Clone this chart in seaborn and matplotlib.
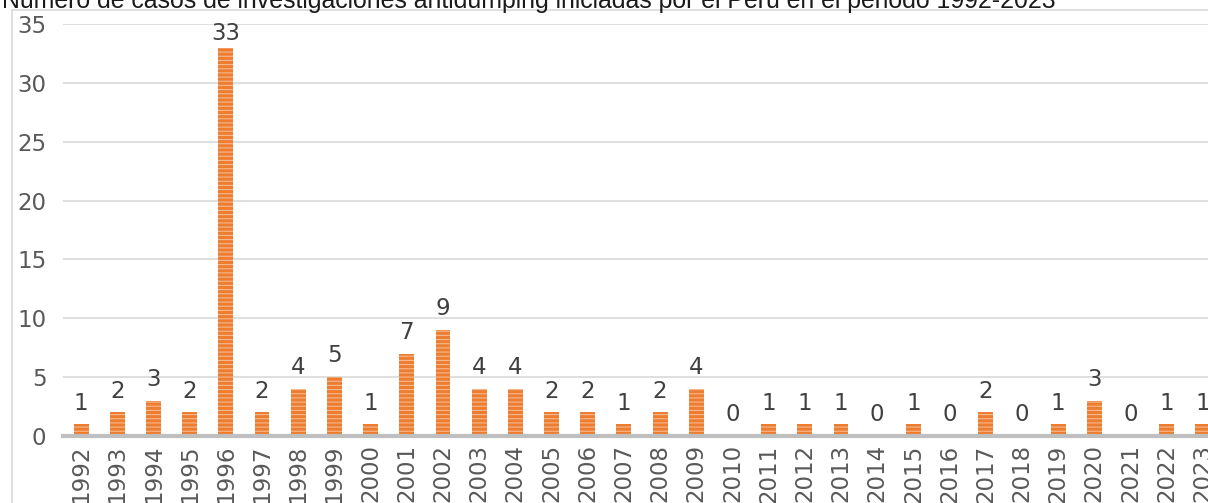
import matplotlib
matplotlib.use("Agg")
import matplotlib.pyplot as plt
import seaborn as sns
import pandas as pd
from matplotlib.patches import Rectangle

years = [str(y) for y in range(1992, 2024)]
cases = [1, 2, 3, 2, 33, 2, 4, 5, 1, 7, 9, 4, 4, 2, 2, 1, 2, 4, 0, 1, 1, 1,
         0, 1, 0, 2, 0, 1, 3, 0, 1, 1]
title = "Número de casos de investigaciones antidumping iniciadas por el Perú en el periodo 1992-2023"

df = pd.DataFrame({"year": years, "cases": cases})

sns.set_style("white")
plt.rcParams['font.family'] = ['DejaVu Sans']
plt.rcParams['hatch.linewidth'] = 0.8
plt.rcParams['hatch.color'] = '#f6b98e'

fig = plt.figure(figsize=(12.08, 5.03), dpi=100)
W, H = 1208, 503
ax = fig.add_axes([63 / W, 67 / H, 1158 / W, 412 / H])

sns.barplot(data=df, x="year", y="cases", order=years, color="#ed7d31",
            width=0.41, saturation=1, ax=ax)
for p in ax.patches:
    p.set_hatch("----")
    p.set_edgecolor("#f6b98e")
    p.set_linewidth(0)

ax.set_xlim(-0.5, len(years) - 0.5)
ax.set_ylim(0, 35)
ax.set_yticks(range(0, 36, 5))
ax.yaxis.grid(True, color="#d9d9d9", linewidth=1.2)
ax.set_axisbelow(True)
for s in ["top", "right", "left"]:
    ax.spines[s].set_visible(False)
ax.spines["bottom"].set_color("#bfbfbf")
ax.spines["bottom"].set_linewidth(3)
ax.tick_params(axis="y", length=0, pad=12, labelsize=16.5, labelcolor="#595959")
ax.tick_params(axis="x", length=0, pad=6, labelsize=16.5, labelcolor="#595959",
               rotation=90)
ax.set_xlabel("")
ax.set_ylabel("")

labels = ax.bar_label(ax.containers[0], labels=[str(v) for v in cases],
                      padding=7, fontsize=16.5, color="#404040")

# keep data labels inside the plot area, like Excel does
fig.canvas.draw()
ax_top = ax.get_window_extent().y1
for t in labels:
    over = t.get_window_extent().y1 - (ax_top + 2)
    if over > 0:
        t.xyann = (t.xyann[0], t.xyann[1] - over * 72 / fig.dpi)

# chart frame
fig.patches.append(Rectangle((12 / W, -0.1), 1.2, (503 - 10) / H + 0.1,
                             transform=fig.transFigure, fill=False,
                             edgecolor="#d9d9d9", linewidth=1.2))

fig.text(2 / W, 1 - 8 / H, title, fontsize=17.9, color="#1a1a1a",
         family=["Liberation Sans", "DejaVu Sans"], ha="left", va="baseline")

fig.savefig("out.png", dpi=100)
